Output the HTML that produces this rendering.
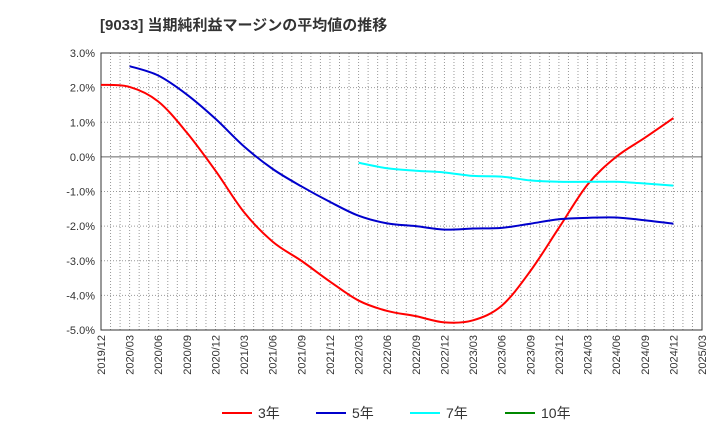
<!DOCTYPE html>
<html><head><meta charset="utf-8"><style>
body{margin:0;background:#fff;font-family:"Liberation Sans","Noto Sans CJK JP",sans-serif}
svg text{font-family:"Liberation Sans","Noto Sans CJK JP",sans-serif}
</style></head><body>
<svg id="c" width="720" height="440">
<text x="100" y="30" font-size="15" font-weight="bold" fill="#333">[9033]  当期純利益マージンの平均値の推移</text>
</svg>
<script>
const quarters=["2019/12","2020/03","2020/06","2020/09","2020/12","2021/03","2021/06","2021/09","2021/12","2022/03","2022/06","2022/09","2022/12","2023/03","2023/06","2023/09","2023/12","2024/03","2024/06","2024/09","2024/12","2025/03"];
const yTicks=[3,2,1,0,-1,-2,-3,-4,-5];
const s3=[2.08,2.02,1.6,0.7,-0.4,-1.6,-2.45,-3.0,-3.6,-4.15,-4.45,-4.6,-4.78,-4.72,-4.3,-3.3,-2.05,-0.8,0.0,0.55,1.12];
const s5=[null,2.62,2.35,1.8,1.1,0.3,-0.35,-0.85,-1.3,-1.7,-1.92,-2.0,-2.1,-2.07,-2.05,-1.93,-1.8,-1.76,-1.75,-1.83,-1.93];
const s7=[null,null,null,null,null,null,null,null,null,-0.17,-0.33,-0.4,-0.45,-0.55,-0.57,-0.68,-0.72,-0.72,-0.72,-0.77,-0.83];
const s10=[];
const L=101,R=702,T=53,B=330,NS="http://www.w3.org/2000/svg";
const svg=document.getElementById('c');
const xq=i=>L+(R-L)*i/21, xm=m=>L+(R-L)*m/63;
const y=v=>T+(3-v)*(B-T)/8;
function el(t,a,p){const e=document.createElementNS(NS,t);for(const k in a)e.setAttribute(k,a[k]);(p||svg).appendChild(e);return e;}
for(let m=1;m<63;m++){const g=el('line',{x1:xm(m),x2:xm(m),y1:T,y2:B,stroke:'#999','stroke-dasharray':'1,2','stroke-width':1});

}
yTicks.forEach(v=>{const g=el('line',{x1:L,x2:R,y1:y(v),y2:y(v),stroke:v===0?'#666':'#999','stroke-dasharray':v===0?'':'1,2','stroke-width':1});


const t=el('text',{x:L-6,y:y(v)+4,'text-anchor':'end','font-size':11,fill:'#333'});t.textContent=v.toFixed(1)+'%';

});
const fr=el('rect',{x:L,y:T,width:R-L,height:B-T,fill:'none',stroke:'#333'});


quarters.forEach((q,i)=>{const t=el('text',{transform:`translate(${xq(i)+4},${B+5}) rotate(-90)`,'text-anchor':'end','font-size':11,fill:'#333'});t.textContent=q;

});
function path(data,color,name){const p=[];data.forEach((v,i)=>{if(v!==null&&v!==undefined)p.push([xq(i),y(v)]);});if(p.length<2)return;
let d=`M${p[0][0]},${p[0][1]}`;for(let i=0;i<p.length-1;i++){const p0=p[i-1]||p[i],p1=p[i],p2=p[i+1],p3=p[i+2]||p2;
d+=` C${p1[0]+(p2[0]-p0[0])/6},${p1[1]+(p2[1]-p0[1])/6} ${p2[0]-(p3[0]-p1[0])/6},${p2[1]-(p3[1]-p1[1])/6} ${p2[0]},${p2[1]}`;}
const e=el('path',{d,fill:'none',stroke:color,'stroke-width':2});

}
path(s3,'#f00','series-3yr');path(s5,'#00c','series-5yr');path(s7,'#0ff','series-7yr');path(s10,'#080','series-10yr');
[['3年','#f00',222],['5年','#00c',316],['7年','#0ff',410],['10年','#080',505]].forEach(([n,c,x])=>{
const g=el('g',{});


el('line',{x1:x,x2:x+30,y1:413,y2:413,stroke:c,'stroke-width':2},g);
const t=el('text',{x:x+36,y:418,'font-size':14,fill:'#333'},g);t.textContent=n;});
</script>
</body></html>
